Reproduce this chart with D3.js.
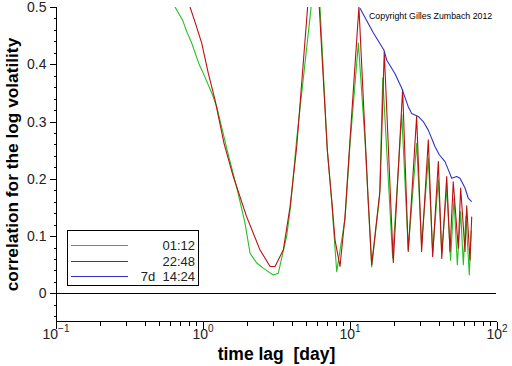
<!DOCTYPE html>
<html>
<head>
<meta charset="utf-8">
<script src="https://cdn.jsdelivr.net/npm/d3@7"></script>
<style>
  body { margin: 0; background: #fff; }
  svg { display: block; }
  .tick text { font-family: 'Liberation Sans', Arial, sans-serif; fill: #222; }
</style>
</head>
<body>
<div id="chart"></div>
<script>
// values: [time lag in days, correlation]
let series0112 = [
  [0.645, 0.50], [0.727, 0.477], [0.775, 0.457], [0.838, 0.437], [0.944, 0.399],
  [1.03, 0.378], [1.15, 0.349], [1.24, 0.326], [1.46, 0.25], [1.71, 0.181],
  [1.93, 0.123], [2.09, 0.07], [2.32, 0.053], [2.57, 0.044], [2.78, 0.038],
  [3.01, 0.032], [3.25, 0.035], [3.71, 0.10], [3.93, 0.149], [4.34, 0.27],
  [5.43, 0.498], [5.75, 0.56], [6.25, 0.50], [7.01, 0.25], [7.51, 0.16],
  [8.12, 0.038], [9.25, 0.13], [10.0, 0.26], [11.4, 0.437], [12.7, 0.26],
  [13.3, 0.16], [14.05, 0.046], [15.9, 0.17], [16.7, 0.376], [19.5, 0.062],
  [22.5, 0.312], [24.9, 0.076], [28.4, 0.262], [30.7, 0.085], [34.1, 0.236],
  [36.5, 0.071], [39.9, 0.198], [42.1, 0.071], [45.5, 0.184], [48.3, 0.058],
  [51.0, 0.166], [53.7, 0.05], [56.6, 0.143], [59.0, 0.05], [61.5, 0.135],
  [64.8, 0.032], [66.8, 0.11]
]

let series2248 = [
  [0.816, 0.50], [0.882, 0.474], [0.98, 0.437], [1.087, 0.384], [1.207, 0.338],
  [1.39, 0.262], [1.607, 0.204], [1.98, 0.134], [2.44, 0.076], [2.86, 0.047],
  [3.09, 0.047], [3.52, 0.076], [3.91, 0.151], [4.34, 0.256], [5.15, 0.50],
  [5.65, 0.58], [6.18, 0.50], [7.01, 0.25], [7.51, 0.163], [7.91, 0.093],
  [8.55, 0.047], [9.25, 0.134], [10.0, 0.268], [11.5, 0.50], [12.7, 0.268],
  [13.3, 0.163], [14.05, 0.05], [16.0, 0.18], [17.1, 0.422], [19.7, 0.054],
  [22.8, 0.356], [24.9, 0.073], [28.4, 0.309], [30.7, 0.073], [34.1, 0.268],
  [36.5, 0.064], [39.9, 0.23], [42.1, 0.061], [45.5, 0.204], [47.9, 0.073],
  [50.4, 0.195], [54.5, 0.079], [56.6, 0.184], [60.6, 0.073], [62.2, 0.153],
  [65.5, 0.058], [67.3, 0.134]
]

let series7d1424 = [
  [11.7, 0.498], [14.4, 0.455], [17.0, 0.425], [17.8, 0.407], [20.2, 0.384],
  [22.5, 0.358], [24.9, 0.326], [26.3, 0.314], [29.1, 0.309], [31.5, 0.30],
  [34.1, 0.285], [37.9, 0.256], [40.5, 0.242], [44.3, 0.23], [46.6, 0.216],
  [49.2, 0.201], [53.2, 0.204], [56.0, 0.201], [60.6, 0.184], [63.8, 0.166],
  [67.3, 0.16]
]

let legendLabels = ['01:12', '22:48', '7d  14:24']
let colors = ['#22c022', '#bb1111', '#3030c8']

let yMajor = [0, 0.1, 0.2, 0.3, 0.4, 0.5]
let yMinor = [-0.04, -0.02, 0.02, 0.04, 0.06, 0.08, 0.12, 0.14, 0.16, 0.18,
  0.22, 0.24, 0.26, 0.28, 0.32, 0.34, 0.36, 0.38, 0.42, 0.44, 0.46, 0.48]
let xMajor = [0.1, 1, 10, 100]
let xMajorExp = ['\u22121', '0', '1', '2']
let xMinor = []
;[0.1, 1, 10].forEach(dec => {
  for (let k = 2; k <= 9; k++) xMinor.push(dec * k)
})

let width = 512
let height = 366
let plotLeft = 56
let plotRight = 497
let plotTop = 7
let plotBottom = 322

let svg = d3
  .select('#chart')
  .append('svg')
  .attr('width', width)
  .attr('height', height)

let x = d3.scaleLog().domain([0.1, 100]).range([plotLeft, plotRight])
let y = d3.scaleLinear().domain([-0.05, 0.5]).range([plotBottom, plotTop])

svg
  .append('clipPath')
  .attr('id', 'plot-clip')
  .append('rect')
  .attr('x', plotLeft)
  .attr('y', plotTop)
  .attr('width', plotRight - plotLeft)
  .attr('height', plotBottom - plotTop)

// zero line
svg
  .append('line')
  .attr('x1', plotLeft)
  .attr('x2', plotRight - 1)
  .attr('y1', Math.round(y(0)) + 0.5)
  .attr('y2', Math.round(y(0)) + 0.5)
  .attr('stroke', '#000')

// y axis
let yAxis = svg
  .append('g')
  .attr('transform', 'translate(' + (plotLeft + 0.5) + ',0)')
  .call(
    d3.axisLeft(y)
      .tickValues(yMajor)
      .tickSize(7)
      .tickPadding(3)
      .tickFormat(d => (d === 0 ? '0' : d3.format('.1f')(d)))
  )
yAxis.select('.domain').attr('d', 'M0,' + plotTop + 'V' + plotBottom)
yAxis.selectAll('text').attr('font-size', 14)

svg
  .append('g')
  .attr('transform', 'translate(' + (plotLeft + 0.5) + ',0)')
  .call(d3.axisLeft(y).tickValues(yMinor).tickSize(3).tickFormat(''))
  .select('.domain')
  .remove()

// x axis
let xAxis = svg
  .append('g')
  .attr('transform', 'translate(0,' + (plotBottom - 0.5) + ')')
  .call(d3.axisBottom(x).tickValues(xMajor).tickSize(7).tickFormat(''))
xAxis.select('.domain').attr('d', 'M' + plotLeft + ',0H' + plotRight)

svg
  .append('g')
  .attr('transform', 'translate(0,' + (plotBottom - 0.5) + ')')
  .call(d3.axisBottom(x).tickValues(xMinor).tickSize(4).tickFormat(''))
  .select('.domain')
  .remove()

svg.selectAll('.tick line').attr('shape-rendering', 'crispEdges')

let xLabels = svg
  .append('g')
  .selectAll('text')
  .data(xMajor)
  .enter()
  .append('text')
  .attr('x', d => x(d))
  .attr('y', 339)
  .attr('text-anchor', 'middle')
  .attr('font-family', "'Liberation Sans', Arial, sans-serif")
  .attr('font-size', 14)
  .attr('fill', '#222')

xLabels.append('tspan').text('10')
xLabels
  .append('tspan')
  .attr('dy', -7)
  .attr('font-size', 10)
  .text((d, i) => xMajorExp[i])

// axis titles
svg
  .append('text')
  .attr('x', (plotLeft + plotRight) / 2)
  .attr('y', 360)
  .attr('text-anchor', 'middle')
  .attr('font-family', "'Liberation Sans', Arial, sans-serif")
  .attr('font-weight', 'bold')
  .attr('font-size', 17.5)
  .attr('fill', '#000')
  .attr('xml:space', 'preserve')
  .text('time lag  [day]')

svg
  .append('text')
  .attr('transform', 'translate(18,' + (plotTop + plotBottom) / 2 + ') rotate(-90)')
  .attr('text-anchor', 'middle')
  .attr('font-family', "'Liberation Sans', Arial, sans-serif")
  .attr('font-weight', 'bold')
  .attr('font-size', 17.3)
  .attr('fill', '#000')
  .text('correlation for the log volatility')

// curves
let line = d3
  .line()
  .x(d => x(d[0]))
  .y(d => y(d[1]))

let plot = svg.append('g').attr('clip-path', 'url(#plot-clip)')

;[series0112, series2248, series7d1424].forEach((s, i) => {
  plot
    .append('path')
    .datum(s)
    .attr('d', line)
    .attr('fill', 'none')
    .attr('stroke', colors[i])
    .attr('stroke-width', 1.1)
    .attr('stroke-linejoin', 'round')
})

svg
  .append('text')
  .attr('x', 369)
  .attr('y', 19)
  .attr('font-family', "'Liberation Sans', Arial, sans-serif")
  .attr('font-size', 8.8)
  .attr('fill', '#000')
  .text('Copyright Gilles Zumbach 2012')

// legend
let legend = svg.append('g')

legend
  .append('rect')
  .attr('x', 67.5)
  .attr('y', 230.5)
  .attr('width', 131)
  .attr('height', 55)
  .attr('fill', '#fff')
  .attr('stroke', '#000')

let legendRows = [245, 261, 276]

legendLabels.forEach((label, i) => {
  legend
    .append('line')
    .attr('x1', 71)
    .attr('x2', 128)
    .attr('y1', legendRows[i] + 0.5)
    .attr('y2', legendRows[i] + 0.5)
    .attr('stroke', colors[i])

  legend
    .append('text')
    .attr('x', 195)
    .attr('y', legendRows[i] + 5)
    .attr('text-anchor', 'end')
    .attr('font-family', "'Liberation Sans', Arial, sans-serif")
    .attr('font-size', 13)
    .attr('fill', '#222')
    .attr('xml:space', 'preserve')
    .text(label)
})
</script>
</body>
</html>
